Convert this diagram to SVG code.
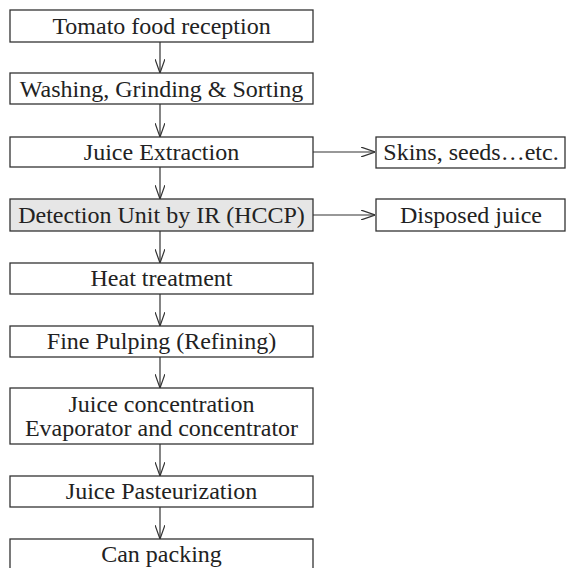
<svg xmlns="http://www.w3.org/2000/svg" width="566" height="568" viewBox="0 0 566 568">
<defs>
<style>
.box{fill:#fff;stroke:#333;stroke-width:1.3}
.hl{fill:#e6e6e6}
.t{font-family:"Liberation Serif","Times New Roman",serif;font-size:24px;fill:#222;text-anchor:middle}
.c{fill:none;stroke:#333;stroke-width:1.2}
</style>
<marker id="arr" markerUnits="userSpaceOnUse" viewBox="0 0 14 10" refX="14" refY="5" markerWidth="14" markerHeight="10" orient="auto">
<path d="M0,0 L14,5 L0,10" fill="none" stroke="#333" stroke-width="1.2"/>
</marker>
</defs>
<rect width="566" height="568" fill="#fff"/>
<g id="connectors">
<line class="c" x1="160" y1="42" x2="160" y2="73" marker-end="url(#arr)"/>
<line class="c" x1="160" y1="104" x2="160" y2="137" marker-end="url(#arr)"/>
<line class="c" x1="160" y1="167" x2="160" y2="199" marker-end="url(#arr)"/>
<line class="c" x1="160" y1="231" x2="160" y2="263" marker-end="url(#arr)"/>
<line class="c" x1="160" y1="294" x2="160" y2="326" marker-end="url(#arr)"/>
<line class="c" x1="160" y1="357" x2="160" y2="388" marker-end="url(#arr)"/>
<line class="c" x1="160" y1="444" x2="160" y2="476" marker-end="url(#arr)"/>
<line class="c" x1="160" y1="507" x2="160" y2="539" marker-end="url(#arr)"/>
<line class="c" x1="313" y1="152" x2="375" y2="152" marker-end="url(#arr)"/>
<line class="c" x1="313" y1="215" x2="375" y2="215" marker-end="url(#arr)"/>
</g>
<g id="n1"><rect class="box" x="10" y="10" width="303" height="32"/><text class="t" x="161.5" y="34">Tomato food reception</text></g>
<g id="n2"><rect class="box" x="10" y="73" width="303" height="31"/><text class="t" x="161.5" y="97">Washing, Grinding &amp; Sorting</text></g>
<g id="n3"><rect class="box" x="10" y="137" width="303" height="30"/><text class="t" x="161.5" y="160">Juice Extraction</text></g>
<g id="n4"><rect class="box hl" x="10" y="199" width="303" height="32"/><text class="t" x="161.5" y="223">Detection Unit by IR (HCCP)</text></g>
<g id="n5"><rect class="box" x="10" y="263" width="303" height="31"/><text class="t" x="161.5" y="286">Heat treatment</text></g>
<g id="n6"><rect class="box" x="10" y="326" width="303" height="31"/><text class="t" x="161.5" y="349">Fine Pulping (Refining)</text></g>
<g id="n7"><rect class="box" x="10" y="388" width="303" height="56"/><text class="t" x="161.5" y="412">Juice concentration</text><text class="t" x="161.5" y="436">Evaporator and concentrator</text></g>
<g id="n8"><rect class="box" x="10" y="476" width="303" height="31"/><text class="t" x="161.5" y="499">Juice Pasteurization</text></g>
<g id="n9"><rect class="box" x="10" y="539" width="303" height="34"/><text class="t" x="161.5" y="562">Can packing</text></g>
<g id="s1"><rect class="box" x="376" y="137" width="189" height="31"/><text class="t" x="471" y="160">Skins, seeds…etc.</text></g>
<g id="s2"><rect class="box" x="376" y="199" width="189" height="32"/><text class="t" x="471" y="223">Disposed juice</text></g>
</svg>
